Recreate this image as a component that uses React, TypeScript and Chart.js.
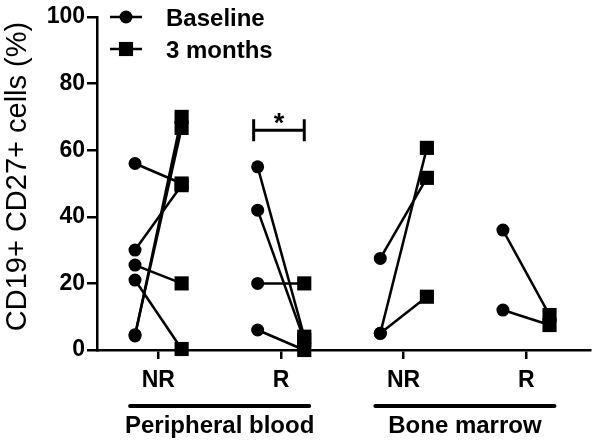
import React, { useEffect, useRef } from 'react';
import { Chart, registerables } from 'chart.js';

Chart.register(...registerables);

// ---- data ----
const categories = ['NR', 'R', 'NR', 'R'];
const tissueGroups = ['Peripheral blood', 'Bone marrow'];
const seriesNames = ['Baseline', '3 months'];
const yTicks = [0, 20, 40, 60, 80, 100];
const yTitle = 'CD19+ CD27+ cells (%)';
const significanceLabel = '*';
const significanceY = 66;

const pbNRBaseline = [56, 30, 25.5, 21, 4.2, 4.6];
const pbNRMonth3 = [50, 49.5, 20, 0.3, 70, 66.7];
const pbRBaseline = [55, 42, 20, 6];
const pbRMonth3 = [4, 3, 20, 0];
const bmNRBaseline = [27.5, 5, 5];
const bmNRMonth3 = [51.7, 60.7, 16];
const bmRBaseline = [36, 12];
const bmRMonth3 = [10.5, 7.5];

const baselineByCategory = [pbNRBaseline, pbRBaseline, bmNRBaseline, bmRBaseline];
const month3ByCategory = [pbNRMonth3, pbRMonth3, bmNRMonth3, bmRMonth3];

// ---- layout constants ----
const FONT = '"Liberation Sans", Arial, Helvetica, sans-serif';
const OFFSET = 0.19; // horizontal offset of baseline / 3-month points from category tick
const CIRCLE_R = 6.5;
const RECT_R = 10;

function buildDatasets() {
  const sets: any[] = [];
  baselineByCategory.forEach((base, ci) => {
    const m3 = month3ByCategory[ci];
    const pos = ci + 1;
    base.forEach((b, i) => {
      sets.push({
        label: `${categories[ci]}-${i}`,
        data: [
          { x: pos - OFFSET, y: b },
          { x: pos + OFFSET, y: m3[i] },
        ],
        borderColor: '#000',
        backgroundColor: '#000',
        borderWidth: 2.5,
        pointStyle: ['circle', 'rect'],
        pointRadius: [CIRCLE_R, RECT_R],
        pointBorderWidth: 0,
        pointBackgroundColor: '#000',
        showLine: true,
        clip: false,
      });
    });
  });
  return sets;
}

const annotate = {
  id: 'annotate',
  afterDraw(chart: any) {
    const { ctx, scales } = chart;
    const x = scales.x;
    const y = scales.y;
    ctx.save();
    ctx.fillStyle = '#000';
    ctx.strokeStyle = '#000';

    // y-axis title
    ctx.save();
    ctx.translate(26, (y.top + y.bottom) / 2 - 7);
    ctx.rotate(-Math.PI / 2);
    ctx.font = `29px ${FONT}`;
    ctx.textAlign = 'center';
    ctx.textBaseline = 'alphabetic';
    ctx.fillText(yTitle, 0, 0);
    ctx.restore();

    // legend
    const lx0 = chart.chartArea.left + 13;
    const lx1 = chart.chartArea.left + 45;
    const lxm = (lx0 + lx1) / 2;
    const ly = [y.getPixelForValue(100), y.getPixelForValue(100) + 32];
    ctx.lineWidth = 2.5;
    ly.forEach((yy, k) => {
      ctx.beginPath();
      ctx.moveTo(lx0, yy);
      ctx.lineTo(lx1, yy);
      ctx.stroke();
      ctx.beginPath();
      if (k === 0) {
        ctx.arc(lxm, yy, CIRCLE_R, 0, Math.PI * 2);
      } else {
        const s = RECT_R * Math.SQRT1_2;
        ctx.rect(lxm - s, yy - s, 2 * s, 2 * s);
      }
      ctx.fill();
      ctx.font = `bold 24px ${FONT}`;
      ctx.textAlign = 'left';
      ctx.textBaseline = 'alphabetic';
      ctx.fillText(seriesNames[k], chart.chartArea.left + 69, yy + 9);
    });

    // significance bracket (PB R: baseline vs 3 months)
    const bx0 = x.getPixelForValue(2 - OFFSET) - 4;
    const bx1 = x.getPixelForValue(2 + OFFSET);
    const by = y.getPixelForValue(significanceY);
    ctx.lineWidth = 3;
    ctx.beginPath();
    ctx.moveTo(bx0, by);
    ctx.lineTo(bx1, by);
    ctx.moveTo(bx0, by - 11);
    ctx.lineTo(bx0, by + 11);
    ctx.moveTo(bx1, by - 11);
    ctx.lineTo(bx1, by + 11);
    ctx.stroke();
    ctx.font = `bold 27px ${FONT}`;
    ctx.textAlign = 'center';
    ctx.textBaseline = 'alphabetic';
    ctx.fillText(significanceLabel, (bx0 + bx1) / 2, by + 2);

    // tissue group lines + labels
    const gy = 406;
    tissueGroups.forEach((g, gi) => {
      const c = 1.5 + gi * 2;
      const gx0 = x.getPixelForValue(c - 0.73);
      const gx1 = x.getPixelForValue(c + 0.73);
      ctx.lineWidth = 4;
      ctx.lineCap = 'round';
      ctx.beginPath();
      ctx.moveTo(gx0, gy);
      ctx.lineTo(gx1, gy);
      ctx.stroke();
      ctx.font = `bold 24px ${FONT}`;
      ctx.textAlign = 'center';
      ctx.textBaseline = 'alphabetic';
      ctx.fillText(g, x.getPixelForValue(c), 433);
    });
    ctx.restore();
  },
};

export default function App() {
  const ref = useRef<HTMLCanvasElement | null>(null);
  useEffect(() => {
    if (!ref.current) return;
    const chart = new Chart(ref.current, {
      type: 'scatter',
      data: { datasets: buildDatasets() },
      options: {
        animation: false,
        responsive: true,
        maintainAspectRatio: false,
        layout: { padding: { top: 17, right: 3, left: 0, bottom: 0 } },
        plugins: { legend: { display: false }, tooltip: { enabled: false } },
        scales: {
          x: {
            type: 'linear',
            min: 0.5,
            max: 4.52,
            afterBuildTicks: (scale: any) => {
              scale.ticks = categories.map((_, i) => ({ value: i + 1 }));
            },
            afterFit: (scale: any) => {
              scale.height = 93;
            },
            ticks: {
              color: '#000',
              font: { family: FONT, size: 23, weight: 'bold' },
              padding: 8,
              callback: (v: any) => categories[Math.round(v) - 1] ?? '',
            },
            grid: {
              display: true,
              drawOnChartArea: false,
              drawTicks: true,
              tickLength: 9,
              color: '#000',
              lineWidth: 2.5,
            },
            border: { display: true, color: '#000', width: 2.5 },
          },
          y: {
            min: 0,
            max: 100,
            afterBuildTicks: (scale: any) => {
              scale.ticks = yTicks.map((v) => ({ value: v }));
            },
            afterFit: (scale: any) => {
              scale.width = 97;
            },
            ticks: {
              color: '#000',
              font: { family: FONT, size: 23, weight: 'bold' },
              padding: 2,
            },
            grid: {
              display: true,
              drawOnChartArea: false,
              drawTicks: true,
              tickLength: 10,
              color: '#000',
              lineWidth: 2.5,
            },
            border: { display: true, color: '#000', width: 2.5 },
          },
        },
      } as any,
      plugins: [annotate],
    });
    return () => chart.destroy();
  }, []);
  return (
    <div style={{ position: 'fixed', left: 0, top: 0, width: 600, height: 443, background: '#fff' }}>
      <canvas ref={ref} />
    </div>
  );
}
